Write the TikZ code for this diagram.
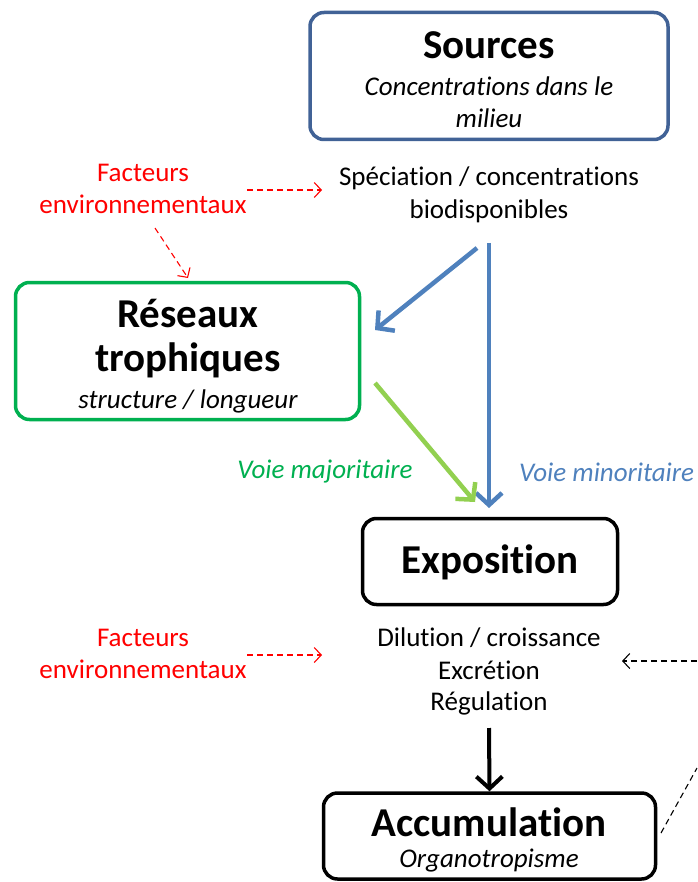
\documentclass[tikz,border=0pt]{standalone}
\usepackage{fontspec}
\setmainfont[Ligatures=NoCommon]{Carlito}
\usetikzlibrary{arrows.meta}
\definecolor{srcblue}{RGB}{65,98,150}
\definecolor{arrblue}{RGB}{79,129,189}
\definecolor{resgreen}{RGB}{0,176,80}
\definecolor{arrgreen}{RGB}{146,208,80}
\tikzset{
  box/.style={draw, rounded corners=14pt, line width=3.5pt, inner sep=0pt},
  txt/.style={font=\fontsize{27}{32}\selectfont, inner sep=0pt},
  ital/.style={font=\fontsize{27}{32}\selectfont\itshape, inner sep=0pt},
  ttl/.style={font=\fontsize{41}{48}\selectfont\bfseries, inner sep=0pt},
  env/.style={txt, red, align=center, font=\fontsize{27}{32}\selectfont},
  envarrow/.style={red, line width=1.1pt, dash pattern=on 6pt off 4pt, -{Straight Barb[length=7pt,width=15pt]}},
  backarrow/.style={black, line width=1.1pt, dash pattern=on 6pt off 4pt, -{Straight Barb[length=7pt,width=15pt]}},
  bigarrow/.style={line width=4.5pt, -{Straight Barb[length=12pt,width=26pt]}}
}
\begin{document}
\begin{tikzpicture}[x=1pt,y=-1pt]
\useasboundingbox (0,0) rectangle (697,882);
% boxes
\node[box, srcblue, minimum width=358pt, minimum height=127pt] (sources) at (489,76){};
\node[box, resgreen, minimum width=344pt, minimum height=137pt] (reseaux) at (187.5,351){};
\node[box, black, minimum width=255pt, minimum height=86pt] (expo) at (490,561.5){};
\node[box, black, minimum width=332pt, minimum height=86pt] (accu) at (489.5,836){};
% box texts
\node[ttl] (srctitle) at (489,45){Sources};
\node[ital] (srcsub1) at (489,86){Concentrations dans le};
\node[ital] (srcsub2) at (489,118){milieu};
\node[ttl] (restitle1) at (188,313){Réseaux};
\node[ttl] (restitle2) at (188,360){trophiques};
\node[ital] (ressub) at (188,401){structure / longueur};
\node[ttl] (expotitle) at (490,562){Exposition};
\node[ttl] (accutitle) at (489,822){Accumulation};
\node[ital] (accusub) at (489,861){Organotropisme};
% process texts
\node[txt] (spec1) at (489,178){Spéciation / concentrations};
\node[txt] (spec2) at (489,211){biodisponibles};
\node[txt] (dil1) at (489,638){Dilution / croissance};
\node[txt] (dil2) at (489,670){Excrétion};
\node[txt] (dil3) at (489,703){Régulation};
\node[ital, resgreen] (major) at (325,472){Voie majoritaire};
\node[ital, arrblue, anchor=west] (minor) at (519,472){Voie minoritaire};
\node[env] (env1) at (143,189){Facteurs\\environnementaux};
\node[env] (env2) at (143,654){Facteurs\\environnementaux};
% arrows
\coordinate (bstart) at (477,248);
\coordinate (bend) at (375,330);
\coordinate (vstart) at (489,243);
\coordinate (vend) at (489,508);
\coordinate (gstart) at (375,383);
\coordinate (gend) at (475,502);
\draw[bigarrow, arrblue](bstart) -- (bend);
\draw[bigarrow, arrblue](vstart) -- (vend);
\draw[bigarrow, arrgreen](gstart) -- (gend);
\draw[bigarrow, black, line width=4pt](dil3.south |- 0,728) -- (accu.north);
\coordinate (e1a) at (247,190);
\coordinate (e1b) at (322,190);
\coordinate (e1c) at (155,228);
\coordinate (e1d) at (188,278);
\draw[envarrow](e1a) -- (e1b);
\draw[envarrow](e1c) -- (e1d);
\coordinate (e2a) at (247,655);
\coordinate (e2b) at (322,655);
\draw[envarrow](e2a) -- (e2b);
% loop coming back from the right
\coordinate (loopin) at (697,661);
\coordinate (loopend) at (622,661);
\coordinate (loopout) at (697,768);
\coordinate (loopstart) at (661,833);
\draw[backarrow](loopin) -- (loopend);
\draw[black, line width=1.1pt, dash pattern=on 6pt off 4pt](loopstart) -- (loopout);
\end{tikzpicture}
\end{document}
